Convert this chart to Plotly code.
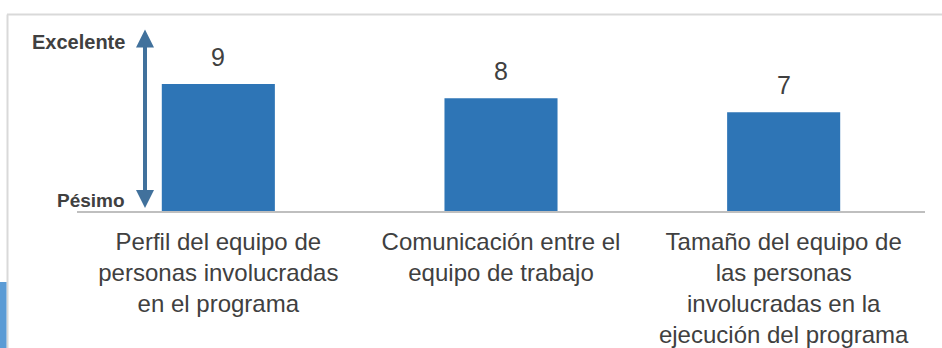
import plotly.graph_objects as go

categories = [
    "Perfil del equipo de<br>personas involucradas<br>en el programa",
    "Comunicación entre el<br>equipo de trabajo",
    "Tamaño del equipo de<br>las personas<br>involucradas en la<br>ejecución del programa",
]
values = [9, 8, 7]
scale_top_label = "Excelente"
scale_bottom_label = "Pésimo"

W, H = 942, 348
L, R, T, B = 77, 17, 15, 137
pw, ph = W - L - R, H - T - B
px_per_unit = 14.1
ymax = ph / px_per_unit

def px_x(x):
    return (x - L) / pw

def px_y(y):
    return (H - B - y) / ph

fig = go.Figure()
fig.add_trace(go.Bar(
    x=categories, y=values, width=0.4,
    marker=dict(color="#2e75b6", line=dict(width=0)),
    hoverinfo="skip",
))

annotations = []
for c, v in zip(categories, values):
    annotations.append(dict(
        x=c, y=v, xref="x", yref="y", text=str(v), showarrow=False,
        yanchor="middle", yshift=27,
        font=dict(family="Liberation Sans, Arial", size=25, color="#404040"),
    ))

annotations.append(dict(
    xref="paper", yref="paper", x=px_x(127), y=px_y(42), xanchor="right", yanchor="middle",
    text="<b>" + scale_top_label + "</b>", showarrow=False,
    font=dict(family="Liberation Sans, Arial", size=20, color="#404040"),
))
annotations.append(dict(
    xref="paper", yref="paper", x=px_x(127), y=px_y(200), xanchor="right", yanchor="middle",
    text="<b>" + scale_bottom_label + "</b>", showarrow=False,
    font=dict(family="Liberation Sans, Arial", size=19, color="#404040"),
))
# double-headed arrow
annotations.append(dict(
    xref="paper", yref="y", x=px_x(145), y=(H - B - 208) / px_per_unit,
    axref="pixel", ayref="y", ax=0, ay=(H - B - 28) / px_per_unit,
    text="", showarrow=True, arrowside="end+start", arrowhead=2,
    arrowsize=0.9, arrowwidth=4, arrowcolor="#41719c", standoff=0, startstandoff=0,
))

shapes = [
    dict(type="line", xref="paper", yref="paper", x0=px_x(7), x1=px_x(942), y0=px_y(14.5), y1=px_y(14.5),
         line=dict(color="#d9d9d9", width=2)),
    dict(type="line", xref="paper", yref="paper", x0=px_x(7.5), x1=px_x(7.5), y0=px_y(14.5), y1=px_y(348),
         line=dict(color="#d9d9d9", width=2)),
    dict(type="rect", xref="paper", yref="paper", x0=px_x(0), x1=px_x(6.5), y0=px_y(282), y1=px_y(348),
         fillcolor="#5b9bd5", line=dict(width=0)),
]

fig.update_layout(
    width=W, height=H,
    margin=dict(l=L, r=R, t=T, b=B, pad=0, autoexpand=False),
    paper_bgcolor="white", plot_bgcolor="white",
    showlegend=False,
    bargap=0.6,
    annotations=annotations,
    shapes=shapes,
    xaxis=dict(
        showline=True, linecolor="#bfbfbf", linewidth=2, automargin=False,
        showgrid=False, ticks="", tickangle=0, ticklabelstandoff=8,
        tickfont=dict(family="Liberation Sans, Arial", size=24, color="#404040"),
        fixedrange=True,
    ),
    yaxis=dict(range=[0, ymax], visible=False, showgrid=False, zeroline=False, fixedrange=True,
               automargin=False),
)

fig.write_html("out.html", config={"displayModeBar": False},
               post_script="document.body.style.margin='0';document.body.style.overflow='hidden';"
                           "document.documentElement.style.overflow='hidden';")
